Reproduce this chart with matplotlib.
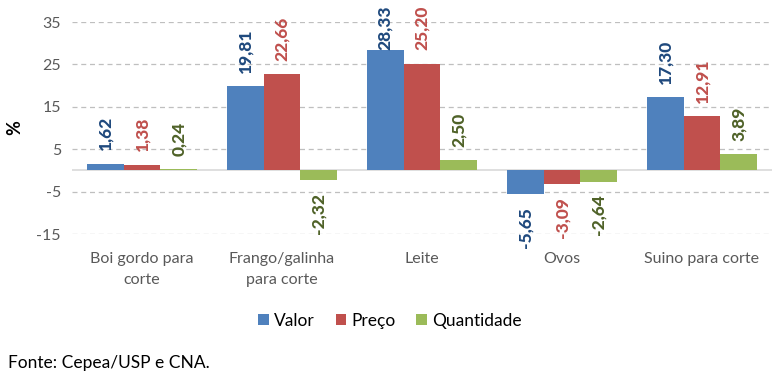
import matplotlib
matplotlib.use("Agg")
import matplotlib.pyplot as plt
import numpy as np

plt.rcParams['font.family'] = ['Lato', 'DejaVu Sans']
plt.rcParams['axes.unicode_minus'] = False

categorias = ["Boi gordo para\ncorte", "Frango/galinha\npara corte", "Leite", "Ovos", "Suino para corte"]
valor = [1.62, 19.81, 28.33, -5.65, 17.30]
preco = [1.38, 22.66, 25.20, -3.09, 12.91]
quantidade = [0.24, -2.32, 2.50, -2.64, 3.89]
series = ["Valor", "Preço", "Quantidade"]
yticks = [-15, -5, 5, 15, 25, 35]

bar_cores = ["#4F81BD", "#C0504D", "#9BBB59"]
label_cores = ["#1F497D", "#C0504D", "#4F6228"]

fig = plt.figure(figsize=(7.77, 3.77), dpi=100)
ax = fig.add_axes([72 / 777, 1 - 234 / 377, 700 / 777, 212 / 377])

x = np.arange(len(categorias))
w = 0.264
pad = 3.1
topo_max = 28.3  # labels can't go past the chart top

for k, (dados, nome) in enumerate(zip([valor, preco, quantidade], series)):
    xs = x + (k - 1) * w
    ax.bar(xs, dados, width=w, color=bar_cores[k], label=nome, zorder=3)
    for xi, v in zip(xs, dados):
        txt = f"{v:.2f}".replace(".", ",")
        if v >= 0:
            yl = min(v + pad, topo_max)
            va = "bottom"
        else:
            yl = v - pad
            va = "top"
        ax.text(xi, yl, txt, rotation=90, ha="center", va=va, color=label_cores[k],
                fontsize=12.5, fontweight="black", clip_on=False, zorder=4)

ax.set_xlim(-0.5, len(categorias) - 0.5)
ax.set_ylim(-15, 35)
ax.set_yticks(yticks)
ax.set_xticks(x)
ax.set_xticklabels(categorias, fontsize=11.5, color="#595959", linespacing=1.6)
ax.tick_params(axis="y", labelsize=11.5, labelcolor="#595959", length=0, pad=8)
ax.tick_params(axis="x", length=0, pad=13)
ax.yaxis.grid(True, linestyle=(0, (4, 3)), color="#BFBFBF", linewidth=0.9, zorder=0)
ax.axhline(0, color="#D9D9D9", linewidth=1.2, zorder=2)
for s in ax.spines.values():
    s.set_visible(False)

fig.text(15 / 777, 1 - 128 / 377, "%", rotation=90, ha="center", va="center",
         fontsize=13, fontweight="bold", color="black")

fig.legend(loc="center", bbox_to_anchor=(390 / 777, 1 - 321 / 377), ncol=3, frameon=False,
           fontsize=12.5, handlelength=0.6, handleheight=0.6, handletextpad=0.3,
           columnspacing=1.2)

fig.text(8 / 777, 1 - 363 / 377, "Fonte: Cepea/USP e CNA.", ha="left", va="center",
         fontsize=12.5, color="black")

fig.savefig("out.png", dpi=100)
